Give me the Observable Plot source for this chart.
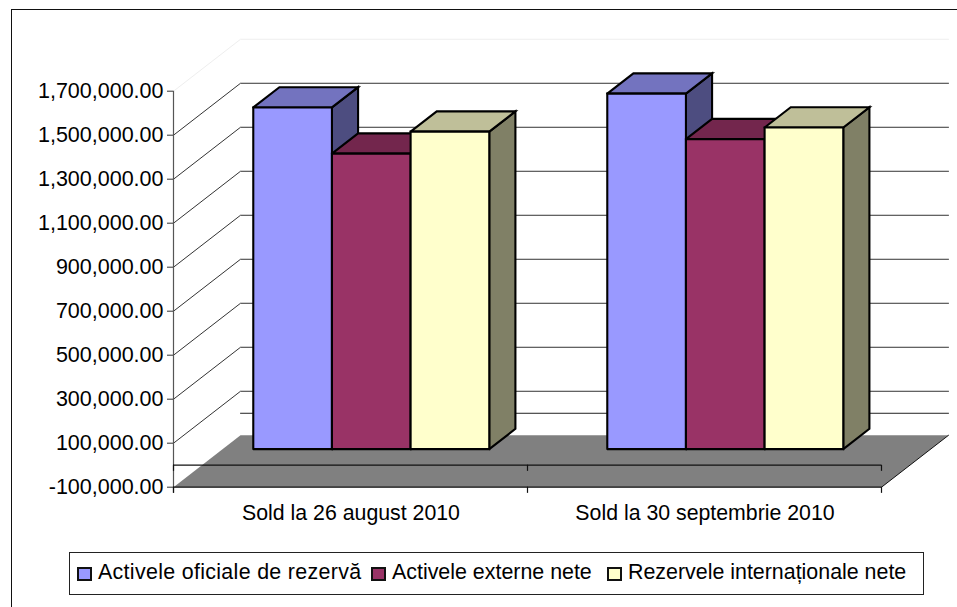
<!DOCTYPE html>
<html>
<head>
<meta charset="utf-8">
<script src="https://cdn.jsdelivr.net/npm/d3@7"></script>
<script src="https://cdn.jsdelivr.net/npm/@observablehq/plot@0.6"></script>
<style>
  html, body { margin: 0; padding: 0; background: #fff; overflow: hidden; }
  #page { position: relative; width: 957px; height: 607px; font-family: "Liberation Sans", Arial, sans-serif; color: #000; }
  #frame { position: absolute; left: 10.5px; top: 8.5px; right: -4px; bottom: -4px; border-left: 1.5px solid #111; border-top: 1.5px solid #111; pointer-events: none; }
  #chart { position: absolute; left: 0; top: 0; }
  #chart svg { display: block; }
  #legend { position: absolute; left: 69px; top: 552px; width: 853px; height: 41px; border: 1px solid #222; background: #fff; }
  .item { position: absolute; top: 0; height: 41px; line-height: 41px; font-size: 21.4px; white-space: nowrap; }
  .swatch { position: absolute; left: 0; top: 13.5px; width: 10.5px; height: 10.5px; border: 2px solid #111; }
  .label { position: absolute; left: 21px; top: -1px; }
</style>
</head>
<body>
<div id="page">
  <div id="chart"></div>
  <div id="frame"></div>
  <div id="legend"></div>
</div>
<script>
// ---- data ----
const categories = ["Sold la 26 august 2010", "Sold la 30 septembrie 2010"];
const seriesNames = ["Activele oficiale de rezervă", "Activele externe nete", "Rezervele internaționale nete"];
const oficiale = [1553000, 1616000];
const externe = [1343000, 1409000];
const internationale = [1443000, 1462000];
const yTicks = [-100000, 100000, 300000, 500000, 700000, 900000, 1100000, 1300000, 1500000, 1700000];

// ---- style ----
const frontColors = ["#9999FF", "#993366", "#FFFFCC"];
const topColors = ["#7373BF", "#73264D", "#BFBF99"];
const sideColors = ["#4D4D80", "#4D1933", "#808066"];
const legendLefts = [7, 301, 537];
const legendSpacing = [0.32, 0, 0];

// ---- pseudo-3D: z runs 0 (front of the floor) to 1 (back wall), expressed in scale units ----
const depthX = 0.1893;     // categories
const depthY = 236000;     // value units
const barZ0 = 0.31, barZ1 = 0.70;
const barWidth = 1 / 4.5, barGap = 0.75 * barWidth;
const yMin = -100000, yMax = 1700000;
const P = (x, v, z) => ({x: x + z * depthX, y: v + z * depthY});

const seriesValues = [oficiale, externe, internationale];
const faces = [];
function face(id, color, points) {
  [...points, points[0]].forEach((p) => faces.push({...p, id, color}));
}
categories.forEach((_, c) => {
  seriesValues.forEach((vals, s) => {
    const x0 = c + barGap + s * barWidth, x1 = x0 + barWidth, v = vals[c];
    face(`side${c}${s}`, sideColors[s], [P(x1, 0, barZ0), P(x1, v, barZ0), P(x1, v, barZ1), P(x1, 0, barZ1)]);
    face(`top${c}${s}`, topColors[s], [P(x0, v, barZ0), P(x1, v, barZ0), P(x1, v, barZ1), P(x0, v, barZ1)]);
    face(`front${c}${s}`, frontColors[s], [P(x0, 0, barZ0), P(x1, 0, barZ0), P(x1, v, barZ0), P(x0, v, barZ0)]);
  });
});

const n = categories.length;
const floor = [P(0, yMin, 0), P(n, yMin, 0), P(n, yMin, 1), P(0, yMin, 1), P(0, yMin, 0)];
const grid = yTicks.filter((v) => v > yMin).flatMap((v) =>
  [P(0, v, 0), P(0, v, 1), P(n, v, 1)].map((p) => ({...p, v})));
const zeroBack = [P(0, 0, 1), P(n, 0, 1)];
const floorEdge = [P(n, yMin, 0), P(n, yMin, 1)];
const hyphenFormat = (v) => d3.format(",.2f")(v).replace("\u2212", "-");

const plot = Plot.plot({
  width: 957,
  height: 607,
  marginLeft: 173,
  marginRight: 76,
  marginTop: 90.7,
  marginBottom: 120.3,
  style: {fontFamily: '"Liberation Sans", Arial, sans-serif', fontSize: "21px", overflow: "visible", background: "transparent"},
  x: {domain: [0, n], axis: null},
  y: {domain: [yMin, yMax], axis: null},
  marks: [
    Plot.line(floor, {x: "x", y: "y", fill: "#808080", stroke: "none"}),
    Plot.line(grid.filter((d) => d.v === yMax), {x: "x", y: "y", z: "v", stroke: "#eeeeee", strokeWidth: 1}),
    Plot.line(grid.filter((d) => d.v !== yMax), {x: "x", y: "y", z: "v", stroke: "#333333", strokeWidth: 1}),
    Plot.line(zeroBack, {x: "x", y: "y", stroke: "#222222", strokeWidth: 1}),
    Plot.line(floorEdge, {x: "x", y: "y", stroke: "#111111", strokeWidth: 1}),
    Plot.ruleX([0], {y1: -128000, y2: yMax, stroke: "#555555", strokeWidth: 1.2}),
    Plot.ruleY([0], {stroke: "#111111", strokeWidth: 1.3}),
    Plot.ruleY([yMin], {stroke: "#111111", strokeWidth: 1.3}),
    Plot.ruleX(d3.range(n + 1), {y1: 0, y2: -28000, stroke: "#111111", strokeWidth: 1.2}),
    Plot.ruleX(d3.range(n + 1), {y1: yMin, y2: -128000, stroke: "#111111", strokeWidth: 1.2}),
    Plot.axisY({
      ticks: yTicks,
      tickSize: 6,
      tickPadding: 4,
      tickFormat: hyphenFormat,
      label: null,
      stroke: "#333333",
      fill: "#000",
      fontSize: 21.5
    }),
    Plot.line(faces, {
      x: "x", y: "y", z: "id", fill: "color",
      stroke: "#000", strokeWidth: 2.1, strokeLinejoin: "miter", strokeMiterlimit: 4
    }),
    Plot.text(categories, {
      x: (_, i) => i + 0.5,
      y: () => yMin,
      text: (d) => d,
      dx: 0.5,
      dy: 25.5,
      fontSize: 21.3,
      fill: "#000"
    })
  ]
});
document.getElementById("chart").append(plot);

const legend = document.getElementById("legend");
seriesNames.forEach((name, i) => {
  const item = document.createElement("div");
  item.className = "item";
  item.style.left = legendLefts[i] + "px";
  const sw = document.createElement("div");
  sw.className = "swatch";
  sw.style.background = frontColors[i];
  const lb = document.createElement("span");
  lb.className = "label";
  lb.style.letterSpacing = legendSpacing[i] + "px";
  lb.textContent = name;
  item.append(sw, lb);
  legend.append(item);
});
</script>
</body>
</html>
